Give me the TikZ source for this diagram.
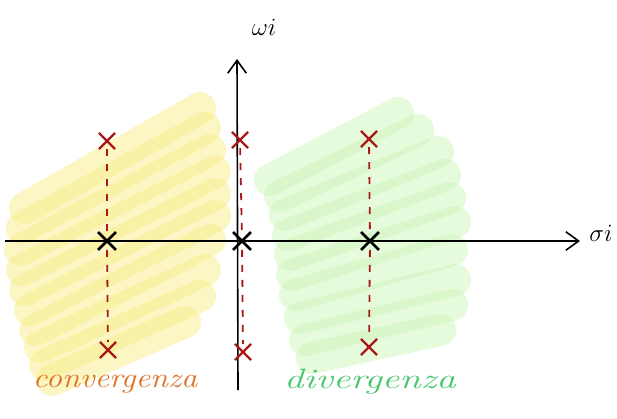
\documentclass[tikz,border=0pt]{standalone}
\usepackage{tikz}
\usetikzlibrary{shapes.misc, arrows.meta, positioning}
\usepackage{xcolor}
\definecolor{polered}{RGB}{170, 25, 25}
\definecolor{conv}{RGB}{222, 112, 35}
\definecolor{diverg}{RGB}{70, 200, 110}
\definecolor{hlyellow}{RGB}{247, 237, 135}
\definecolor{hlgreen}{RGB}{205, 245, 185}
\tikzstyle{axis}      = [-{Straight Barb[length=4.5mm, width=6.5mm, line width=1.6pt]}, line width=1.6pt, black]
\tikzstyle{pole}      = [cross out, draw=polered, line width=2.2pt, minimum size=14pt, inner sep=0pt]
\tikzstyle{origpole}  = [cross out, draw=black, line width=2.8pt, minimum size=15pt, inner sep=0pt]
\tikzstyle{locus}     = [polered, line width=1.8pt, dash pattern=on 7pt off 8pt]
\tikzstyle{hlyel}     = [hlyellow, line width=32pt, line cap=round, opacity=0.5]
\tikzstyle{hlgrn}     = [hlgreen, line width=32pt, line cap=round, opacity=0.5]
\begin{document}
\begin{tikzpicture}[x=1pt, y=-1pt]
  \useasboundingbox (0,0) rectangle (617,419);

  % Highlighted half-planes
  \foreach \a/\b/\c/\d in {25/208/200/108, 22/228/205/128, 20/250/210/150, 22/270/215/172,
                           25/290/215/194, 30/310/215/216, 35/330/210/240, 40/347/205/270,
                           45/365/200/296, 52/380/185/322}
    \draw [hlyel] (\a,\b) -- (\c,\d);
  \foreach \a/\b/\c/\d in {270/180/398/113, 280/196/418/130, 285/215/438/152, 288/235/445/175,
                           290/255/450/198, 292/275/455/222, 295/295/452/250, 300/318/455/280,
                           305/340/452/305, 312/358/440/330}
    \draw [hlgrn] (\a,\b) -- (\c,\d);

  % Axes
  \coordinate (xl) at (5,241);
  \coordinate (xr) at (580,241);
  \coordinate (yb) at (238,390);
  \coordinate (yt) at (237,59);
  \draw [axis] (xl) -- (xr);
  \draw [axis] (yb) -- (yt);
  \node (sigma) at (601,233) {\fontsize{30}{34}\selectfont $\sigma i$};
  \node (omega) at (264,27) {\fontsize{30}{34}\selectfont $\omega i$};

  % Poles
  \node (l0) [origpole] at (107,241) {};
  \node (m0) [origpole] at (242,241) {};
  \node (r0) [origpole] at (370,241) {};
  \node (lt) [pole] at (107,141) {};
  \node (lb) [pole] at (108,350) {};
  \node (mt) [pole] at (240,140) {};
  \node (mb) [pole] at (243,352) {};
  \node (rt) [pole] at (369,139) {};
  \node (rb) [pole] at (369,347) {};

  \draw [locus] (lt) -- (l0);
  \draw [locus] (l0) -- (lb);
  \draw [locus] (mt) -- (m0);
  \draw [locus] (m0) -- (mb);
  \draw [locus] (rt) -- (r0);
  \draw [locus] (r0) -- (rb);

  % Annotations
  \node (convtxt) [conv, font=\fontsize{28}{32}\selectfont\itshape] at (115,384) {\scalebox{1.16}[1]{convergenza}};
  \node (divtxt)  [diverg, font=\fontsize{28}{32}\selectfont\itshape] at (370,382) {\scalebox{1.39}[1]{divergenza}};
\end{tikzpicture}
\end{document}
